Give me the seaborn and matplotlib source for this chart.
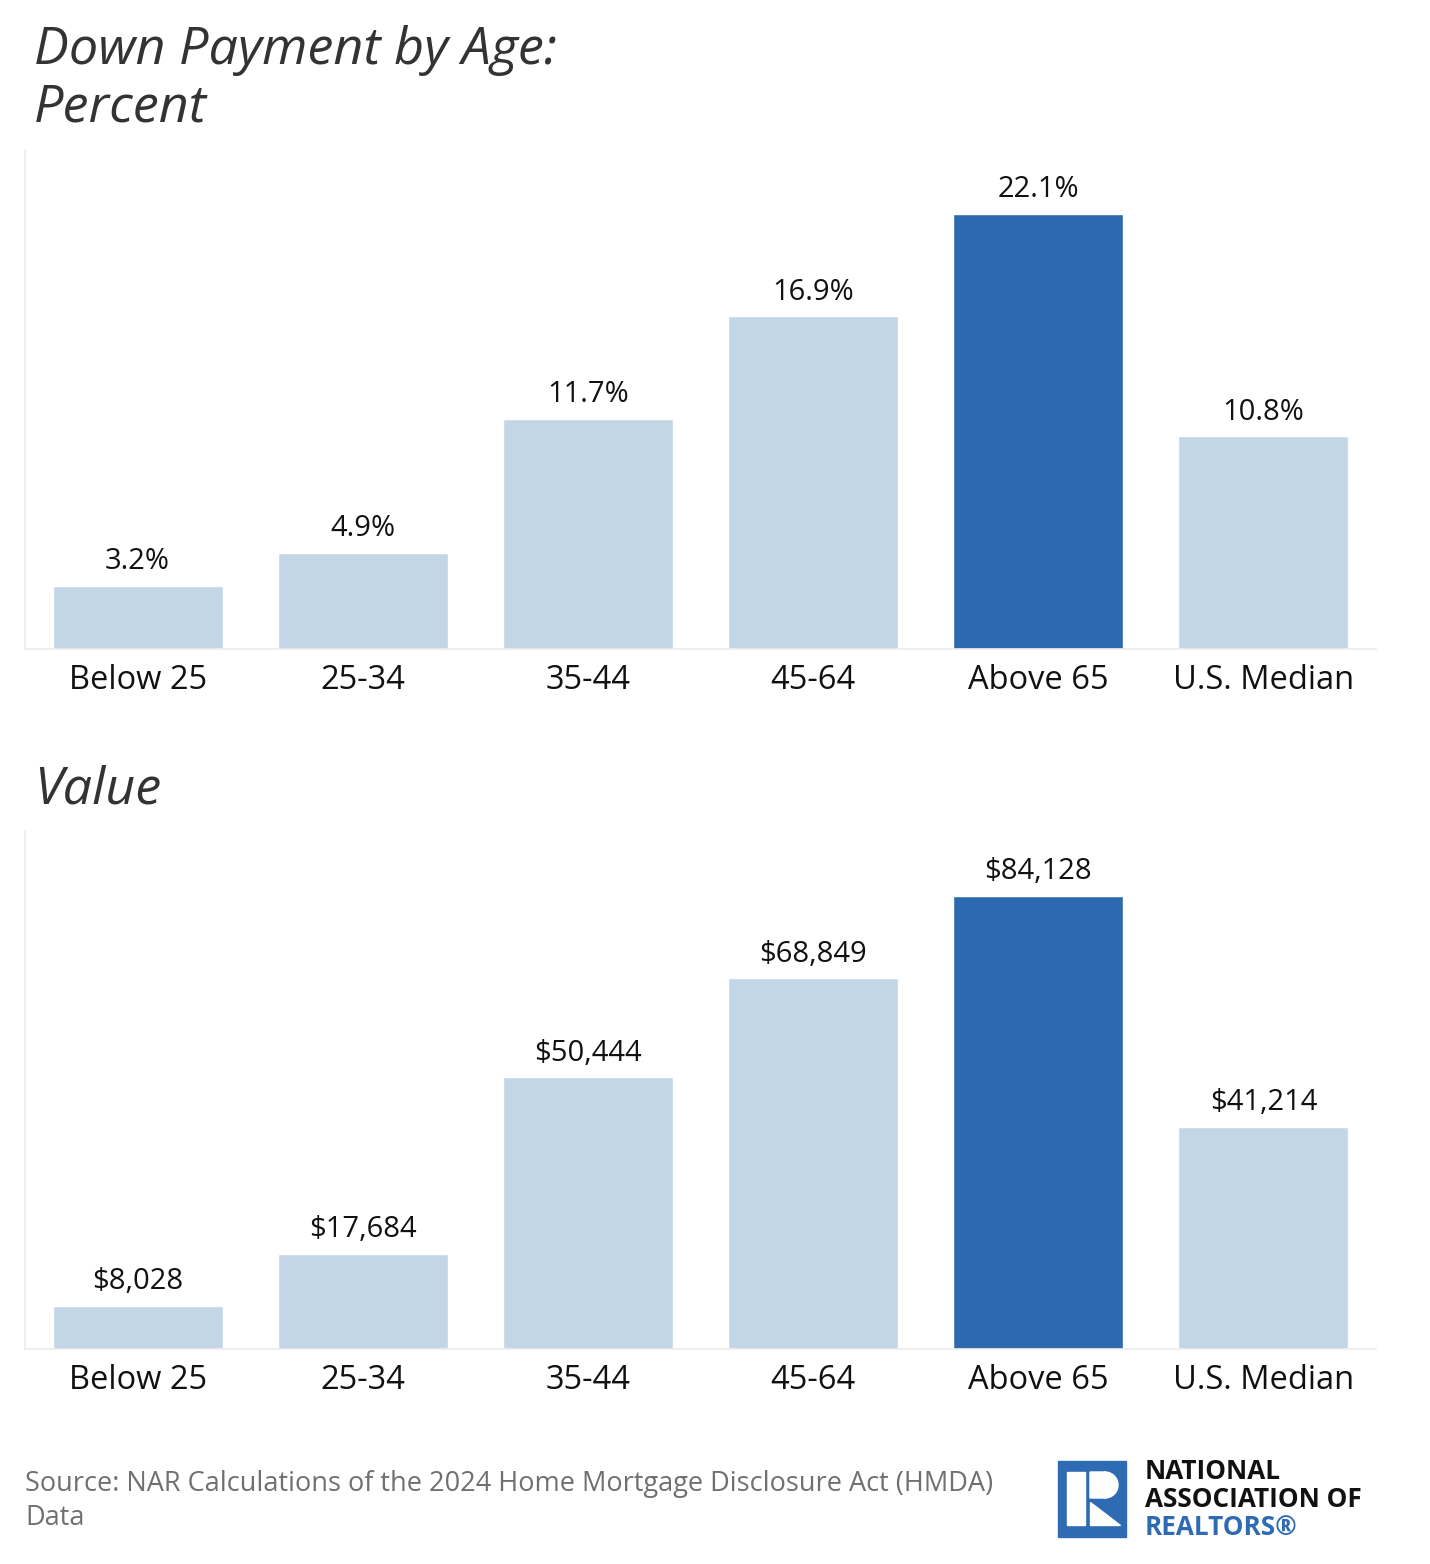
import matplotlib
matplotlib.use("Agg")
import matplotlib.pyplot as plt
from matplotlib.patches import Rectangle, Polygon
import seaborn as sns
import numpy as np

# data
categories = ["Below 25", "25-34", "35-44", "45-64", "Above 65", "U.S. Median"]
pct_values = [3.2, 4.9, 11.7, 16.9, 22.1, 10.8]
dollar_values = [8028, 17684, 50444, 68849, 84128, 41214]
highlight = "Above 65"

LIGHT = "#c3d6e7"
DARK = "#2d69ae"
AXIS_GREY = "#ececec"
FONT = "Open Sans"

sns.set_theme(style="white")
plt.rcParams["font.family"] = [FONT, "DejaVu Sans"]

W, H = 1430, 1564
fig = plt.figure(figsize=(W / 100, H / 100), dpi=100)
fig.patch.set_facecolor("white")


def px_box(left, top, right, bottom):
    # convert pixel box to figure fraction rect
    return [left / W, 1 - bottom / H, (right - left) / W, (bottom - top) / H]


def bar_panel(ax, values, labels, ymax):
    palette = [DARK if c == highlight else LIGHT for c in categories]
    sns.barplot(x=categories, y=values, hue=categories, palette=palette,
                legend=False, width=0.755, saturation=1, ax=ax)
    ax.set_xlim(-0.5, len(categories) - 0.5)
    ax.set_ylim(0, ymax)
    ax.set_yticks([])
    ax.set_xlabel("")
    ax.set_ylabel("")
    for side in ["top", "right"]:
        ax.spines[side].set_visible(False)
    for side in ["left", "bottom"]:
        ax.spines[side].set_color(AXIS_GREY)
        ax.spines[side].set_linewidth(1.2)
    ax.tick_params(axis="x", which="major", length=0, pad=11,
                   labelsize=23.5, labelcolor="#111111")
    ax.set_xticks(np.arange(-0.5, len(categories) - 1), minor=True)
    ax.tick_params(axis="x", which="minor", length=7, width=1.2,
                   color=AXIS_GREY, direction="out")
    for i, (v, lab) in enumerate(zip(values, labels)):
        ax.annotate(lab, (i, v), xytext=(0, 7), textcoords="offset points",
                    ha="center", va="bottom", fontsize=21, color="#111111")


ax1 = fig.add_axes(px_box(25, 150, 1376, 649))
bar_panel(ax1, pct_values, [f"{v:.1f}%" for v in pct_values], 25.35)

ax2 = fig.add_axes(px_box(25, 831, 1376, 1349))
bar_panel(ax2, dollar_values, [f"${v:,.0f}" for v in dollar_values], 96200)

# overlay in pixel coordinates for titles, source and logo
ov = fig.add_axes([0, 0, 1, 1], zorder=-1)
ov.set_xlim(0, W)
ov.set_ylim(H, 0)
ov.axis("off")

title_kw = dict(fontsize=37.5, style="italic", color="#333333", va="baseline")
ov.text(34, 64, "Down Payment by Age:", **title_kw)
ov.text(34, 121, "Percent", **title_kw)
ov.text(34, 803, "Value", **title_kw)

src_kw = dict(fontsize=19.5, color="#707070", va="baseline")
ov.text(25, 1491, "Source: NAR Calculations of the 2024 Home Mortgage Disclosure Act (HMDA)", **src_kw)
ov.text(25, 1525, "Data", **src_kw)

# logo mark
ov.add_patch(Rectangle((1058, 1461), 68, 76, color="#2f6bb3", zorder=3))
ov.add_patch(Rectangle((1067, 1472), 18, 53, color="white", zorder=4))
theta = np.linspace(-np.pi / 2, np.pi / 2, 30)
bowl = [(1090, 1472), (1105, 1472)]
bowl += [(1105 + 13 * np.cos(t), 1485 + 13 * np.sin(t)) for t in -theta]
bowl += [(1105, 1498), (1090, 1498)]
ov.add_patch(Polygon(bowl, closed=True, color="white", zorder=4))
ov.add_patch(Polygon([(1090, 1502), (1090, 1525), (1120, 1525)],
                     closed=True, color="white", zorder=4))

logo_kw = dict(fontsize=18.8, fontweight="bold", va="baseline")
ov.text(1145, 1479, "NATIONAL", color="#111111", **logo_kw)
ov.text(1145, 1507, "ASSOCIATION OF", color="#111111", **logo_kw)
ov.text(1145, 1535, "REALTORS\u00ae", color="#2f6bb3", **logo_kw)

fig.savefig("out.png", dpi=100, facecolor="white")
